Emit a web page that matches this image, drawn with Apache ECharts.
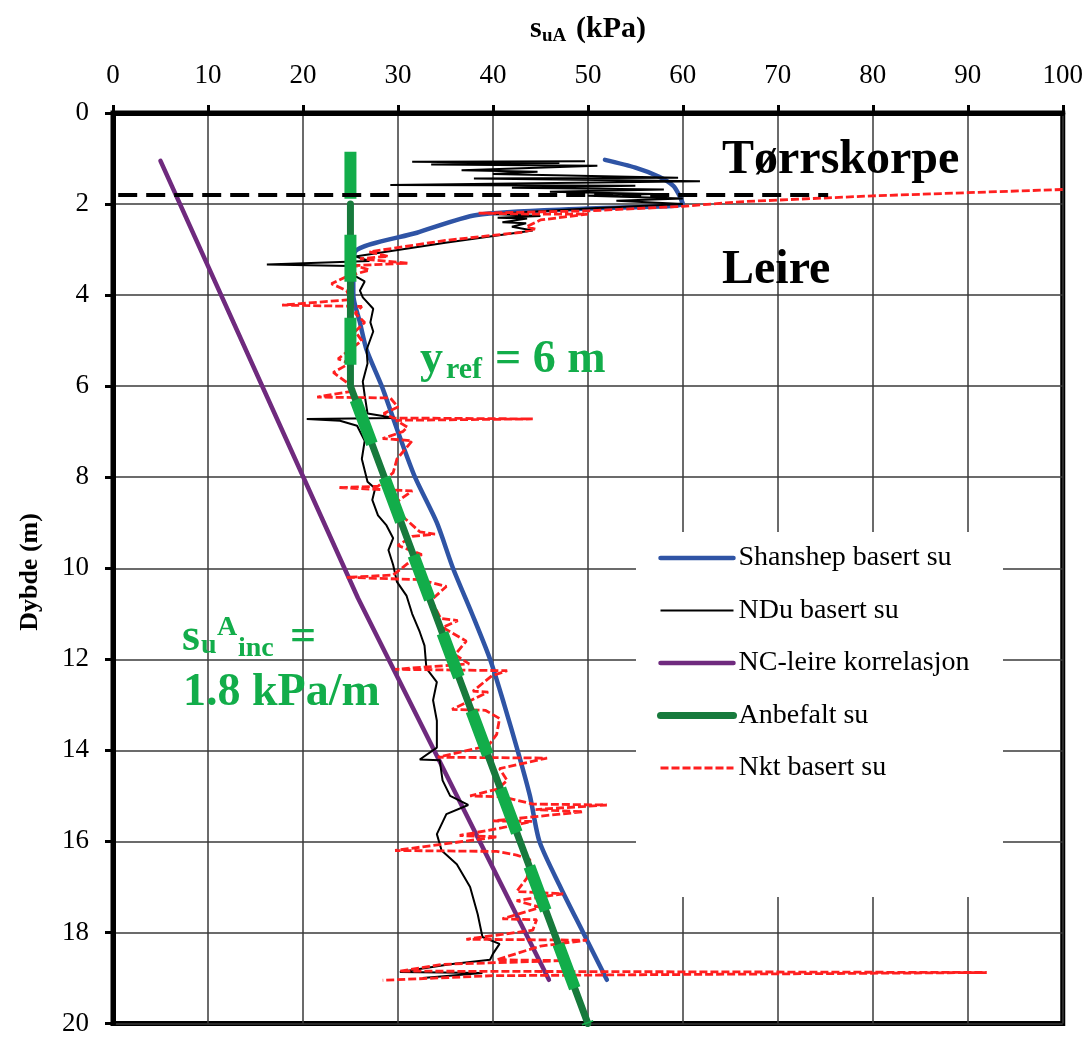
<!DOCTYPE html>
<html>
<head>
<meta charset="utf-8">
<script src="https://cdn.jsdelivr.net/npm/echarts@6/dist/echarts.min.js"></script>
<style>
  html, body { margin: 0; padding: 0; background: #fff; }
  #chart { width: 1086px; height: 1037px; }
</style>
</head>
<body>
<div id="chart"></div>
<script>
// Undrained shear strength profile (suA, kPa) against depth (m)
const xTicks = [0, 10, 20, 30, 40, 50, 60, 70, 80, 90, 100];
const depthTicks = [0, 2, 4, 6, 8, 10, 12, 14, 16, 18, 20];

// Each point is [suA (kPa), depth (m)]
const shanshep = [
  [51.8, 1.03], [55.0, 1.2], [57.5, 1.4], [59.0, 1.6], [59.6, 1.8], [60.0, 2.0],
  [50.0, 2.1], [38.3, 2.24], [32.0, 2.63], [25.5, 3.04], [25.3, 3.5], [25.3, 4.0],
  [26.0, 4.6], [26.7, 5.2], [28.3, 6.0], [30.0, 7.0], [31.8, 8.0], [34.1, 9.0],
  [35.8, 10.0], [37.8, 11.0], [39.7, 12.0], [41.2, 13.0], [42.6, 14.0], [43.9, 15.0],
  [44.9, 16.0], [47.1, 17.0], [49.5, 18.0], [52.0, 19.04]
];

const ndu = [
  [49.7, 1.06], [31.5, 1.07], [47.0, 1.1], [33.5, 1.13], [51.0, 1.16], [36.7, 1.26],
  [44.7, 1.29], [40.0, 1.34], [59.5, 1.42], [38.0, 1.44], [61.8, 1.5], [29.2, 1.58],
  [55.0, 1.6], [42.0, 1.64], [58.0, 1.68], [46.0, 1.73], [57.0, 1.78], [50.0, 1.82],
  [60.0, 1.88], [53.0, 1.93], [60.0, 2.0], [50.0, 2.1], [40.0, 2.22], [45.0, 2.26],
  [40.5, 2.3], [43.6, 2.32], [41.0, 2.4], [43.5, 2.42], [42.0, 2.5], [44.2, 2.58],
  [35.0, 2.85], [25.5, 3.15], [27.0, 3.25], [16.2, 3.33], [25.0, 3.36], [24.8, 3.5],
  [26.5, 3.7], [26.0, 3.9], [26.3, 4.05], [27.4, 4.3], [27.1, 4.6], [27.4, 4.8],
  [26.7, 5.2], [26.8, 5.5], [26.3, 5.9], [26.5, 6.2], [26.8, 6.6], [29.7, 6.7],
  [20.4, 6.72], [23.9, 6.76], [25.7, 6.87], [26.5, 7.2], [26.2, 7.6], [26.8, 8.1],
  [27.6, 8.25], [27.3, 8.5], [27.9, 8.84], [28.8, 9.06], [29.5, 9.34], [29.0, 9.6],
  [29.5, 9.93], [29.9, 10.3], [30.9, 10.6], [31.5, 11.0], [32.3, 11.4], [32.8, 11.7],
  [33.0, 12.2], [34.1, 12.5], [33.7, 12.9], [34.1, 13.35], [34.1, 13.94], [32.3, 14.2],
  [34.4, 14.22], [34.7, 14.66], [35.5, 15.0], [37.4, 15.2], [35.1, 15.4], [34.1, 15.84],
  [34.6, 16.2], [36.2, 16.5], [37.6, 17.0], [38.4, 17.6], [38.9, 18.1], [40.7, 18.25],
  [40.0, 18.47], [39.7, 18.6], [35.5, 18.7], [30.2, 18.87], [38.9, 18.89], [32.6, 19.0]
];

const ncLeire = [
  [5.0, 1.05], [25.8, 10.66], [45.9, 19.04]
];

const anbefalt = [
  [25, 2], [25, 6], [50, 20]
];

const anbefaltTrend = [
  [25, 0.85], [25, 6], [50, 20]
];

const nkt = [
  [100, 1.68], [80, 1.82], [66, 1.95], [60, 2.05], [50, 2.15], [38.5, 2.2], [44, 2.22],
  [50, 2.22], [45, 2.35], [43.5, 2.5], [44.5, 2.55], [43, 2.62], [35, 2.8], [27, 3.05],
  [29, 3.15], [26, 3.2], [31, 3.3], [25.5, 3.35], [27, 3.45], [24.5, 3.6], [23, 3.75],
  [24.6, 3.9], [25, 4.1], [17.8, 4.22], [26.2, 4.25], [25.5, 4.4], [26.5, 4.6],
  [25.5, 4.8], [26.2, 5.0], [23.7, 5.4], [24.9, 5.5], [23.2, 5.7], [24.5, 5.9],
  [25.5, 6.1], [21.5, 6.24], [29.2, 6.26], [30, 6.46], [28.5, 6.6], [29.5, 6.7],
  [44.2, 6.72], [29.8, 6.75], [31, 6.9], [30.5, 7.0], [28.4, 7.15], [31.5, 7.2],
  [29.9, 7.6], [29.5, 7.9], [27.9, 8.2], [23.7, 8.23], [31.5, 8.3], [29.5, 8.6],
  [30.7, 8.9], [32.3, 9.2], [33.9, 9.25], [31.5, 9.3], [30, 9.5], [32.5, 9.7],
  [31, 9.9], [29.5, 10.15], [24.6, 10.2], [32.3, 10.25], [35.1, 10.4], [33.5, 10.7],
  [34.5, 11.1], [36.3, 11.15], [34.7, 11.3], [37.2, 11.6], [36, 11.9], [37.5, 12.1],
  [29.7, 12.22], [41.5, 12.25], [39.9, 12.36], [37.9, 12.7], [39.5, 12.72], [35.7, 13.1],
  [39.2, 13.12], [40.7, 13.3], [40.4, 13.65], [39.5, 13.9], [34.2, 14.15], [45.7, 14.17],
  [40.7, 14.4], [41.5, 14.66], [40.5, 14.85], [37.6, 15.0], [41, 15.02], [44.2, 15.18],
  [52, 15.2], [44.5, 15.3], [49.5, 15.35], [40, 15.55], [44.1, 15.56], [41, 15.7],
  [36.5, 15.87], [40.5, 15.9], [29.7, 16.2], [40.4, 16.22], [42.5, 16.3], [43.9, 16.4],
  [43.6, 16.8], [42.5, 17.1], [47.4, 17.15], [42.5, 17.3], [45, 17.45], [41, 17.7],
  [44.6, 17.72], [44.2, 17.95], [37.2, 18.15], [49.9, 18.17], [45, 18.3], [40.4, 18.6],
  [47.4, 18.62], [34.7, 18.7], [30.2, 18.85], [92, 18.88], [40, 18.95], [28.4, 19.05]
];

// Dry crust boundary
const crustBoundary = [[-2.4, 1.8], [75.3, 1.8]];

const serif = 'Liberation Serif';
const lightGreen = '#12ad4a';

const chart = echarts.init(document.getElementById('chart'));

function txt(x, y, text, size, color, extra) {
  return Object.assign({
    type: 'text', x: x, y: y, z: 10,
    style: {
      text: text, fill: color || '#000', fontFamily: serif, fontWeight: 'bold',
      fontSize: size, verticalAlign: 'middle', align: 'left'
    }
  }, extra || {});
}

const legendNames = ['Shanshep basert su', 'NDu basert su', 'NC-leire korrelasjon', 'Anbefalt su', 'Nkt basert su'];

const option = {
  animation: false,
  backgroundColor: '#fff',
  grid: {
    left: 113, top: 113, right: 23, bottom: 10,
    show: true, borderWidth: 5, borderColor: '#000', backgroundColor: 'transparent'
  },
  xAxis: {
    type: 'value', position: 'top', min: 0, max: 100, interval: 10,
    axisLine: { show: true, lineStyle: { color: '#000', width: 5 } },
    axisTick: { show: true, length: 8, lineStyle: { color: '#000', width: 3 } },
    axisLabel: { color: '#000', fontFamily: serif, fontSize: 27, margin: 24 },
    splitLine: { show: true, lineStyle: { color: '#3a3a3a', width: 1.5 } }
  },
  yAxis: {
    type: 'value', inverse: true, min: 0, max: 20, interval: 2,
    axisLine: { show: true, lineStyle: { color: '#000', width: 5 } },
    axisTick: { show: true, length: 8, lineStyle: { color: '#000', width: 3 } },
    axisLabel: { color: '#000', fontFamily: serif, fontSize: 27, margin: 24 },
    splitLine: { show: true, lineStyle: { color: '#3a3a3a', width: 1.5 } }
  },
  legend: {
    orient: 'vertical', left: 657, top: 544, padding: 0,
    itemWidth: 73, itemHeight: 14, itemGap: 24.5,
    data: legendNames.map(function (n) { return { name: n, itemStyle: { opacity: 0 } }; }),
    lineStyle: { width: 'inherit' },
    textStyle: { fontFamily: serif, fontSize: 28, color: '#000' },
    z: 6
  },
  graphic: [
    { type: 'rect', shape: { x: 636, y: 532, width: 367, height: 365 }, style: { fill: '#fff' }, z: 3 },
    txt(722, 161, 'Tørrskorpe', 48),
    txt(722, 271, 'Leire', 48),
    txt(420, 360, 'y', 46, lightGreen),
    txt(446, 370, 'ref', 30, lightGreen),
    txt(495, 360, '= 6 m', 46, lightGreen),
    txt(182, 638, 's', 46, lightGreen),
    txt(201, 646, 'u', 28, lightGreen),
    txt(217, 628, 'A', 28, lightGreen),
    txt(238, 649, 'inc', 28, lightGreen),
    txt(290, 638, '=', 46, lightGreen),
    txt(183, 693, '1.8 kPa/m', 46, lightGreen),
    txt(530, 29, 's', 30),
    txt(542, 36, 'uA', 19),
    txt(576, 29, '(kPa)', 30),
    txt(30, 572, 'Dybde (m)', 26, '#000', { rotation: Math.PI / 2, style: {
      text: 'Dybde (m)', fill: '#000', fontFamily: serif, fontWeight: 'bold',
      fontSize: 26, verticalAlign: 'middle', align: 'center' } })
  ],
  series: [
    {
      name: 'Shanshep basert su', type: 'line', data: shanshep, symbol: 'none',
      smooth: 0.25, lineStyle: { color: '#2f54a5', width: 4.5, cap: 'round' },
      itemStyle: { color: '#2f54a5' }, z: 2
    },
    {
      name: 'NC-leire korrelasjon', type: 'line', data: ncLeire, symbol: 'none',
      lineStyle: { color: '#6f2a7e', width: 4.5, cap: 'round' },
      itemStyle: { color: '#6f2a7e' }, z: 2
    },
    {
      name: 'NDu basert su', type: 'line', data: ndu, symbol: 'none',
      lineStyle: { color: '#000', width: 2 }, itemStyle: { color: '#000' }, z: 2
    },
    {
      name: 'Nkt basert su', type: 'line', data: nkt, symbol: 'none',
      lineStyle: { color: '#ff1f1f', width: 2.8, type: [8, 3] },
      itemStyle: { color: '#ff1f1f' }, z: 2
    },
    {
      name: 'Anbefalt su', type: 'line', data: anbefalt, symbol: 'none',
      lineStyle: { color: '#177a3c', width: 7, cap: 'round' },
      itemStyle: { color: '#177a3c' }, z: 2
    },
    {
      name: 'Anbefalt trend', type: 'line', data: anbefaltTrend, symbol: 'none',
      lineStyle: { color: lightGreen, width: 12, type: [47, 36], cap: 'butt' },
      itemStyle: { color: lightGreen }, z: 2
    },
    {
      name: 'Tørrskorpe grense', type: 'line', data: crustBoundary, symbol: 'none',
      clip: false,
      lineStyle: { color: '#000', width: 4, type: [19, 9] },
      itemStyle: { color: '#000' }, z: 2
    }
  ]
};

chart.setOption(option);
</script>
</body>
</html>
